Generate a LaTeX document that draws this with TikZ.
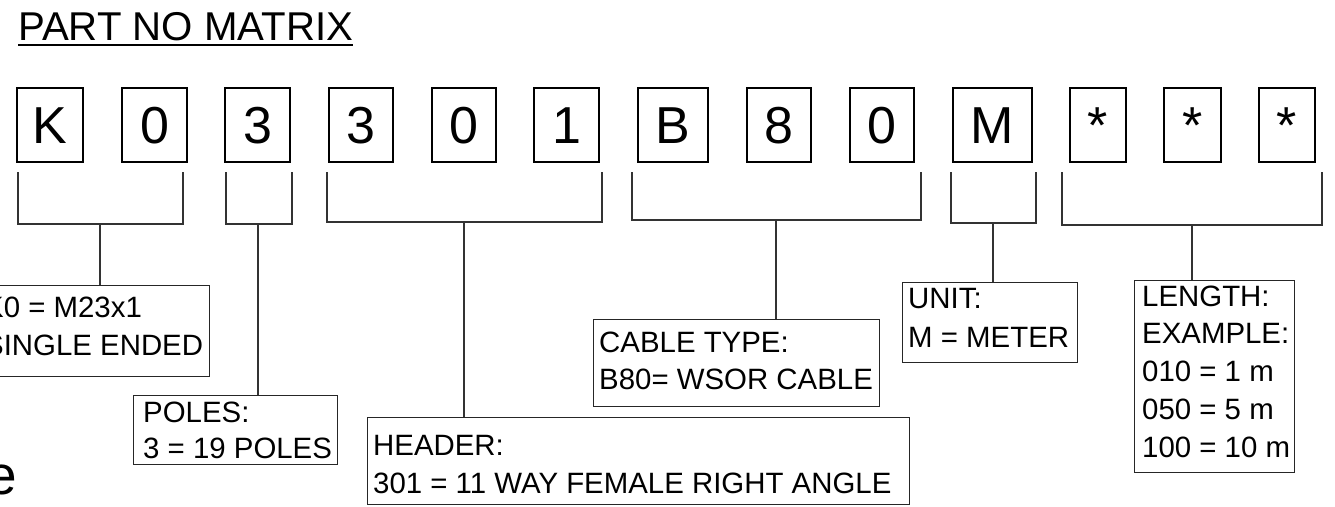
\documentclass[tikz,border=0pt]{standalone}
\usepackage{fontspec}
\setmainfont{Liberation Sans}
\newcommand\lbltxt[2]{\parbox[t]{600pt}{\fontsize{29.4}{#1}\selectfont #2}}
\begin{document}
\begin{tikzpicture}[x=1pt,y=-1pt,
  charbox/.style={draw=black, line width=2pt, minimum height=74pt, inner sep=0pt,
    font=\fontsize{52}{52}\selectfont, text height=37.2pt, text depth=0pt},
  lblbox/.style={draw=black!85, line width=1.3pt, inner sep=0pt, anchor=north west},
  lbltext/.style={anchor=base west, inner sep=0pt},
  br/.style={draw=black!80, line width=1.2pt}]
\useasboundingbox (0,0) rectangle (1335,506);
\clip (0,0) rectangle (1335,506);

% title
\node[anchor=base west, inner sep=0pt, font=\fontsize{40.2}{41}\selectfont] (title) at (18,40) {PART NO MATRIX};
\draw[line width=2pt] ([yshift=-5pt]title.base west) -- ([yshift=-5pt]title.base east);

% character boxes
\node[charbox, minimum width=66pt] (c1) at (50,125) {K};
\node[charbox, minimum width=65pt] (c2) at (154.5,125) {0};
\node[charbox, minimum width=65pt] (c3) at (257.5,125) {3};
\node[charbox, minimum width=64pt] (c4) at (361,125) {3};
\node[charbox, minimum width=64pt] (c5) at (464,125) {0};
\node[charbox, minimum width=65pt] (c6) at (566.5,125) {1};
\node[charbox, minimum width=70pt] (c7) at (673,125) {B};
\node[charbox, minimum width=64pt] (c8) at (779,125) {8};
\node[charbox, minimum width=64pt] (c9) at (882,125) {0};
\node[charbox, minimum width=79pt] (c10) at (992.5,125) {M};
\node[charbox, minimum width=56pt] (c11) at (1098,125) {*};
\node[charbox, minimum width=57pt] (c12) at (1192.5,125) {*};
\node[charbox, minimum width=56pt] (c13) at (1287,125) {*};

% label boxes
\node[lblbox, minimum width=228pt, minimum height=91pt] (l1) at (-19,285) {};
\node[lblbox, minimum width=204pt, minimum height=69pt] (l2) at (133,395) {};
\node[lblbox, minimum width=542pt, minimum height=87pt] (l3) at (367,417) {};
\node[lblbox, minimum width=286pt, minimum height=87pt] (l4) at (593,319) {};
\node[lblbox, minimum width=175pt, minimum height=80pt] (l5) at (902,282) {};
\node[lblbox, minimum width=160pt, minimum height=192pt] (l6) at (1134,280) {};

% label texts
\node[lbltext] (t1) at (-16,317) {\lbltxt{38}{K0 = M23x1\\SINGLE ENDED}};
\node[lbltext] (t2) at (143,422) {\lbltxt{36}{POLES:\\3 = 19 POLES}};
\node[lbltext] (t3) at (373,455) {\lbltxt{38}{HEADER:\\301 = 11 WAY FEMALE RIGHT ANGLE}};
\node[lbltext] (t4) at (599,352) {\lbltxt{37}{CABLE TYPE:\\B80= WSOR CABLE}};
\node[lbltext] (t5) at (908,308) {\lbltxt{39}{UNIT:\\M = METER}};
\node[lbltext] (t6) at (1142,306) {\lbltxt{37.75}{LENGTH:\\EXAMPLE:\\010 = 1 m\\050 = 5 m\\100 = 10 m}};

% fragment at lower left
\node[anchor=base west, inner sep=0pt, font=\fontsize{55}{55}\selectfont] (frag) at (-14,494) {e};

% bracket coordinates
\coordinate (b1a) at (18,172);   \coordinate (b1m) at (100,224);  \coordinate (b1b) at (183,172);
\coordinate (b2a) at (226,172);  \coordinate (b2m) at (258,224);  \coordinate (b2b) at (292,172);
\coordinate (b3a) at (327,172);  \coordinate (b3m) at (464,222);  \coordinate (b3b) at (602,172);
\coordinate (b4a) at (632,172);  \coordinate (b4m) at (776,220);  \coordinate (b4b) at (921,172);
\coordinate (b5a) at (951,172);  \coordinate (b5m) at (993,223);  \coordinate (b5b) at (1036,172);
\coordinate (b6a) at (1062,172); \coordinate (b6m) at (1192,225); \coordinate (b6b) at (1322,172);

% brackets and stems
\foreach \i in {1,...,6}{
  \draw[br] (b\i a) |- (b\i m) -| (b\i b);
  \draw[br] (b\i m) -- (b\i m |- l\i.north);
}
\end{tikzpicture}
\end{document}
